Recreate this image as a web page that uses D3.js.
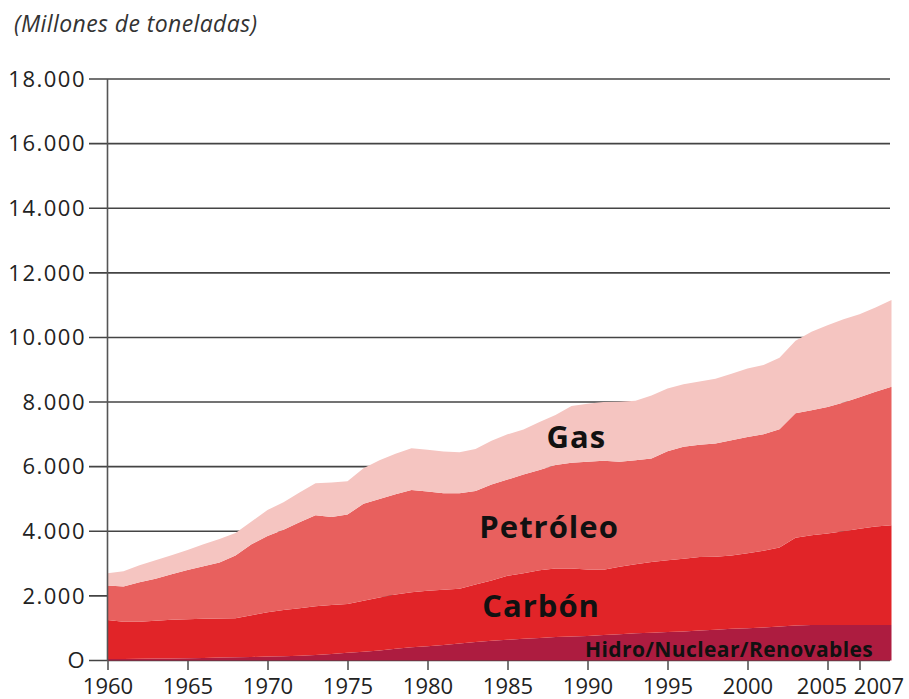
<!DOCTYPE html>
<html>
<head>
<meta charset="utf-8">
<script src="https://cdn.jsdelivr.net/npm/d3@7"></script>
<style>
	body { margin: 0; background: #fff; }
	text { font-family: "Open Sans", "Noto Sans", sans-serif; }
</style>
</head>
<body>
<script>
var years = [1960, 1961, 1962, 1963, 1964, 1965, 1966, 1967, 1968, 1969,
	1970, 1971, 1972, 1973, 1974, 1975, 1976, 1977, 1978, 1979,
	1980, 1981, 1982, 1983, 1984, 1985, 1986, 1987, 1988, 1989,
	1990, 1991, 1992, 1993, 1994, 1995, 1996, 1997, 1998, 1999,
	2000, 2001, 2002, 2003, 2004, 2005, 2006, 2007, 2008, 2009];

// millones de toneladas, por fuente
var hidro = [50, 50, 55, 60, 65, 70, 80, 90, 100, 110,
	120, 135, 150, 170, 200, 240, 270, 310, 360, 410,
	440, 480, 530, 570, 610, 640, 670, 700, 730, 740,
	760, 790, 810, 840, 860, 880, 900, 930, 950, 980,
	1000, 1020, 1050, 1080, 1100, 1100, 1100, 1100, 1100, 1100];
var carbon = [1200, 1150, 1145, 1170, 1195, 1210, 1210, 1210, 1210, 1290,
	1370, 1425, 1470, 1510, 1520, 1510, 1580, 1640, 1680, 1700,
	1720, 1710, 1690, 1780, 1870, 1980, 2030, 2090, 2120, 2110,
	2060, 2020, 2090, 2140, 2190, 2220, 2250, 2270, 2260, 2270,
	2320, 2380, 2450, 2720, 2780, 2830, 2900, 2980, 3050, 3090];
var petroleo = [1070, 1090, 1220, 1300, 1410, 1520, 1630, 1730, 1940, 2200,
	2360, 2490, 2660, 2820, 2720, 2770, 3000, 3050, 3110, 3170,
	3070, 2990, 2960, 2900, 2970, 2980, 3060, 3110, 3200, 3270,
	3330, 3370, 3250, 3220, 3200, 3380, 3470, 3480, 3510, 3570,
	3600, 3600, 3660, 3850, 3870, 3920, 3990, 4070, 4170, 4280];
var gas = [380, 470, 530, 570, 590, 620, 680, 730, 700, 700,
	810, 850, 920, 990, 1070, 1030, 1100, 1200, 1250, 1290,
	1290, 1290, 1270, 1300, 1350, 1400, 1390, 1480, 1550, 1760,
	1800, 1820, 1860, 1840, 1950, 1940, 1930, 1960, 2000, 2060,
	2120, 2150, 2210, 2250, 2430, 2530, 2570, 2570, 2610, 2690];

var yTicks = [0, 2000, 4000, 6000, 8000, 10000, 12000, 14000, 16000, 18000];
var xTicks = [1960, 1965, 1970, 1975, 1980, 1985, 1990, 1995, 2000, 2005, 2007];

var keys = ["hidro", "carbon", "petroleo", "gas"];
var colors = {hidro: "#ad1c40", carbon: "#e12428", petroleo: "#e8605e", gas: "#f5c5c1"};

var width = 909, height = 699;

var data = years.map(function (yr, i) {
	return {year: yr, hidro: hidro[i], carbon: carbon[i], petroleo: petroleo[i], gas: gas[i]};
});

var x = d3.scaleLinear().domain([1960, 2009]).range([107.5, 891.5]);
var y = d3.scaleLinear().domain([0, 18000]).range([660.5, 79]);

var svg = d3.select("body").append("svg")
	.attr("width", width)
	.attr("height", height);

svg.append("text")
	.attr("x", 14)
	.attr("y", 32)
	.attr("font-size", 23)
	.attr("font-style", "italic")
	.attr("letter-spacing", 0.4)
	.attr("fill", "#333")
	.text("(Millones de toneladas)");

// grid lines behind the areas
svg.append("g")
	.selectAll("line")
	.data(yTicks)
	.enter().append("line")
	.attr("x1", 89)
	.attr("x2", 890)
	.attr("y1", function (d) { return y(d); })
	.attr("y2", function (d) { return y(d); })
	.attr("stroke", "#444")
	.attr("stroke-width", 1.6);

var stack = d3.stack().keys(keys);
var series = stack(data);

var area = d3.area()
	.x(function (d) { return x(d.data.year); })
	.y0(function (d) { return y(d[0]); })
	.y1(function (d) { return y(d[1]); });

svg.append("g")
	.selectAll("path")
	.data(series)
	.enter().append("path")
	.attr("fill", function (d) { return colors[d.key]; })
	.attr("d", area);

// y axis
svg.append("line")
	.attr("x1", 107.5)
	.attr("x2", 107.5)
	.attr("y1", y(18000))
	.attr("y2", 661)
	.attr("stroke", "#555")
	.attr("stroke-width", 1.6);

svg.append("g")
	.selectAll("text")
	.data(yTicks)
	.enter().append("text")
	.attr("x", 86)
	.attr("y", function (d) { return y(d); })
	.attr("dy", "0.35em")
	.attr("text-anchor", "end")
	.attr("font-size", 22)
	.attr("letter-spacing", 1.5)
	.attr("fill", "#222")
	.text(function (d) { return d === 0 ? "O" : d3.format(",")(d).replace(/,/g, "."); });

// x axis
var xg = svg.append("g")
	.attr("transform", "translate(0," + 661 + ")")
	.call(d3.axisBottom(x)
		.tickValues(xTicks)
		.tickFormat(d3.format("d"))
		.tickSize(9)
		.tickPadding(8));

xg.select(".domain").remove();
xg.selectAll(".tick line")
	.attr("stroke", "#555")
	.attr("stroke-width", 1.6);
xg.selectAll(".tick text")
	.attr("font-family", "'Open Sans', sans-serif")
	.attr("font-size", 22)
	.attr("fill", "#222")
	.attr("dx", function (d) { return d === 2005 ? -6 : d === 2007 ? 19 : 0; });

// series labels
var labels = [
	{text: "Gas", year: 1989.3, value: 6580, size: 31},
	{text: "Petróleo", year: 1987.6, value: 3790, size: 31},
	{text: "Carbón", year: 1987.1, value: 1350, size: 31},
	{text: "Hidro/Nuclear/Renovables", year: 1998.85, value: 108, size: 21}
];

svg.append("g")
	.selectAll("text")
	.data(labels)
	.enter().append("text")
	.attr("x", function (d) { return x(d.year); })
	.attr("y", function (d) { return y(d.value); })
	.attr("text-anchor", "middle")
	.attr("font-size", function (d) { return d.size; })
	.attr("font-weight", 700)
	.attr("letter-spacing", function (d) { return d.size > 25 ? 1 : 0.4; })
	.attr("fill", "#111")
	.text(function (d) { return d.text; });
</script>
</body>
</html>
